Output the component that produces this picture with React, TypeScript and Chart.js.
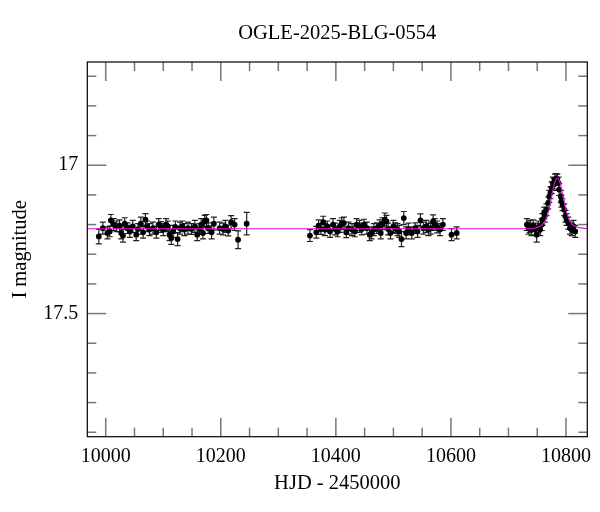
import { useEffect, useRef } from 'react';
import { Chart, registerables } from 'chart.js';

Chart.register(...registerables);

// season 1 (HJD - 2450000, I mag, error)
const s1Hjd = [
  9988, 9995, 10003, 10007, 10009, 10014, 10019, 10024, 10027, 10030,
  10033, 10038, 10042, 10047, 10053, 10056, 10061, 10065, 10069, 10072,
  10076, 10082, 10088, 10092, 10096, 10100, 10105, 10108, 10111, 10114,
  10117, 10121, 10125, 10129, 10133, 10137, 10143, 10149, 10155, 10159,
  10163, 10166, 10169, 10172, 10175, 10178, 10184, 10188, 10198, 10204,
  10208, 10213, 10218, 10224, 10230, 10245,
];
const s1Mag = [
  17.240, 17.212, 17.228, 17.223, 17.186, 17.200, 17.206, 17.204, 17.228, 17.237,
  17.197, 17.212, 17.223, 17.206, 17.234, 17.215, 17.197, 17.226, 17.183, 17.206,
  17.217, 17.212, 17.226, 17.200, 17.208, 17.217, 17.200, 17.206, 17.234, 17.245,
  17.223, 17.208, 17.249, 17.212, 17.206, 17.217, 17.212, 17.215, 17.206, 17.234,
  17.215, 17.200, 17.228, 17.189, 17.186, 17.212, 17.226, 17.197, 17.212, 17.215,
  17.206, 17.220, 17.192, 17.200, 17.251, 17.197,
];
const s1Err = [
  0.025, 0.02, 0.02, 0.018, 0.02, 0.02, 0.018, 0.02, 0.02, 0.022,
  0.02, 0.018, 0.02, 0.02, 0.02, 0.018, 0.022, 0.02, 0.02, 0.018,
  0.02, 0.02, 0.02, 0.02, 0.018, 0.02, 0.02, 0.018, 0.02, 0.022,
  0.02, 0.02, 0.022, 0.02, 0.018, 0.02, 0.02, 0.018, 0.02, 0.02,
  0.018, 0.02, 0.02, 0.02, 0.02, 0.018, 0.022, 0.022, 0.02, 0.02,
  0.02, 0.018, 0.022, 0.02, 0.03, 0.038,
];

// season 2
const s2Hjd = [
  10355, 10366, 10370, 10374, 10378, 10381, 10385, 10390, 10395, 10399,
  10403, 10407, 10410, 10414, 10418, 10422, 10428, 10433, 10436, 10441,
  10445, 10449, 10454, 10459, 10462, 10466, 10471, 10476, 10478, 10481,
  10485, 10488, 10491, 10495, 10500, 10503, 10507, 10510, 10514, 10518,
  10522, 10526, 10532, 10538, 10542, 10547, 10552, 10557, 10561, 10565,
  10569, 10572, 10576, 10581, 10586, 10601, 10610,
];
const s2Mag = [
  17.237, 17.226, 17.204, 17.215, 17.192, 17.217, 17.206, 17.223, 17.200, 17.215,
  17.223, 17.206, 17.197, 17.195, 17.226, 17.212, 17.217, 17.223, 17.200, 17.206,
  17.215, 17.200, 17.212, 17.234, 17.228, 17.217, 17.212, 17.204, 17.228, 17.197,
  17.183, 17.189, 17.215, 17.228, 17.206, 17.212, 17.217, 17.223, 17.249, 17.178,
  17.228, 17.215, 17.228, 17.212, 17.223, 17.186, 17.212, 17.206, 17.217, 17.212,
  17.189, 17.200, 17.208, 17.217, 17.200, 17.234, 17.228,
];
const s2Err = [
  0.02, 0.02, 0.02, 0.018, 0.02, 0.02, 0.018, 0.02, 0.02, 0.02,
  0.018, 0.02, 0.02, 0.02, 0.018, 0.02, 0.02, 0.018, 0.02, 0.02,
  0.02, 0.018, 0.02, 0.02, 0.02, 0.02, 0.018, 0.02, 0.02, 0.02,
  0.022, 0.02, 0.02, 0.02, 0.02, 0.018, 0.02, 0.02, 0.025, 0.022,
  0.02, 0.02, 0.02, 0.018, 0.02, 0.022, 0.02, 0.02, 0.02, 0.02,
  0.022, 0.02, 0.02, 0.02, 0.02, 0.02, 0.02,
];

// season 3 (event)
const s3Hjd = [
  10732, 10735, 10737, 10740, 10743, 10746, 10749, 10752, 10755, 10758,
  10759, 10762, 10763, 10766, 10769, 10771, 10773, 10775, 10777, 10779,
  10781, 10783, 10785, 10787, 10788, 10791, 10792, 10794, 10797, 10799,
  10801, 10804, 10807, 10810, 10813, 10816,
];
const s3Mag = [
  17.200, 17.212, 17.206, 17.217, 17.204, 17.215, 17.234, 17.208, 17.217, 17.200,
  17.183, 17.161, 17.172, 17.150, 17.127, 17.105, 17.093, 17.076, 17.060, 17.065,
  17.048, 17.046, 17.048, 17.060, 17.082, 17.105, 17.121, 17.133, 17.150, 17.172,
  17.183, 17.195, 17.212, 17.217, 17.206, 17.223,
];
const s3Err = [
  0.02, 0.02, 0.02, 0.02, 0.02, 0.02, 0.025, 0.02, 0.02, 0.02,
  0.02, 0.02, 0.02, 0.02, 0.02, 0.02, 0.02, 0.02, 0.02, 0.02,
  0.018, 0.018, 0.018, 0.02, 0.02, 0.02, 0.02, 0.02, 0.02, 0.02,
  0.02, 0.02, 0.02, 0.02, 0.02, 0.02,
];

// model light curve
const modelHjd = [
  9968, 10740, 10753, 10760, 10765, 10770, 10773, 10776, 10779, 10782,
  10785, 10788, 10791, 10794, 10797, 10800, 10805, 10810, 10817, 10830, 10837,
];
const modelMag = [
  17.214, 17.214, 17.207, 17.198, 17.182, 17.152, 17.125, 17.095, 17.068, 17.050,
  17.043, 17.050, 17.068, 17.095, 17.125, 17.152, 17.182, 17.198, 17.207, 17.212, 17.214,
];

const xTicks = [10000, 10050, 10100, 10150, 10200, 10250, 10300, 10350, 10400, 10450, 10500, 10550, 10600, 10650, 10700, 10750, 10800];
const xLabels = [10000, 10200, 10400, 10600, 10800];
const yTicks = [16.7, 16.8, 16.9, 17.0, 17.1, 17.2, 17.3, 17.4, 17.5, 17.6, 17.7, 17.8, 17.9];
const yLabels = [17.0, 17.5];

const FONT = "'Liberation Serif', 'Times New Roman', serif";

const toPoints = (xs: number[], ys: number[]) => xs.map((x, i) => ({ x, y: ys[i] }));

const errorBars = {
  id: 'errorBars',
  beforeDatasetsDraw(chart: any) {
    const { ctx, scales: { x, y } } = chart;
    ctx.save();
    ctx.strokeStyle = '#222';
    ctx.lineWidth = 1.2;
    chart.data.datasets.forEach((ds: any) => {
      if (!ds.errors) return;
      ds.data.forEach((p: any, i: number) => {
        const px = x.getPixelForValue(p.x);
        const top = y.getPixelForValue(p.y - ds.errors[i]);
        const bot = y.getPixelForValue(p.y + ds.errors[i]);
        ctx.beginPath();
        ctx.moveTo(px, top);
        ctx.lineTo(px, bot);
        ctx.moveTo(px - 3, top);
        ctx.lineTo(px + 3, top);
        ctx.moveTo(px - 3, bot);
        ctx.lineTo(px + 3, bot);
        ctx.stroke();
      });
    });
    ctx.restore();
  },
};

const frameTicks = {
  id: 'frameTicks',
  afterDraw(chart: any) {
    const { ctx, chartArea: a, scales: { x, y } } = chart;
    const line = (x0: number, y0: number, x1: number, y1: number) => {
      ctx.beginPath();
      ctx.moveTo(x0, y0);
      ctx.lineTo(x1, y1);
      ctx.stroke();
    };
    ctx.save();
    ctx.strokeStyle = '#777';
    ctx.lineWidth = 1.5;
    xTicks.forEach((v) => {
      const px = x.getPixelForValue(v);
      const len = xLabels.includes(v) ? 19 : 9;
      line(px, a.bottom, px, a.bottom - len);
      line(px, a.top, px, a.top + len);
    });
    yTicks.forEach((v) => {
      const py = y.getPixelForValue(v);
      const len = yLabels.includes(v) ? 19 : 9;
      line(a.left, py, a.left + len, py);
      line(a.right, py, a.right - len, py);
    });
    ctx.strokeStyle = '#000';
    ctx.lineWidth = 1.2;
    ctx.strokeRect(a.left, a.top, a.right - a.left, a.bottom - a.top);
    ctx.restore();
  },
};

export default function App() {
  const canvasRef = useRef<HTMLCanvasElement>(null);

  useEffect(() => {
    if (!canvasRef.current) return;
    const pointStyle = {
      type: 'scatter' as const,
      backgroundColor: '#000',
      borderColor: '#000',
      borderWidth: 0,
      pointRadius: 2.9,
      order: 1,
    };
    const chart = new Chart(canvasRef.current, {
      type: 'scatter',
      data: {
        datasets: [
          {
            type: 'line',
            data: toPoints(modelHjd, modelMag),
            borderColor: '#e010e0',
            borderWidth: 1.1,
            pointRadius: 0,
            cubicInterpolationMode: 'monotone',
            order: 0,
          },
          { ...pointStyle, data: toPoints(s1Hjd, s1Mag), errors: s1Err },
          { ...pointStyle, data: toPoints(s2Hjd, s2Mag), errors: s2Err },
          { ...pointStyle, data: toPoints(s3Hjd, s3Mag), errors: s3Err },
        ] as any,
      },
      options: {
        animation: false,
        responsive: true,
        maintainAspectRatio: false,
        layout: { padding: { left: 0, right: 12.7, top: 0, bottom: 0 } },
        plugins: {
          legend: { display: false },
          tooltip: { enabled: false },
          title: {
            display: true,
            fullSize: false,
            text: 'OGLE-2025-BLG-0554',
            color: '#000',
            font: { family: FONT, size: 20.5, weight: 'normal' },
            padding: { top: 21.7, bottom: 15.7 },
          },
        },
        scales: {
          x: {
            type: 'linear',
            min: 9968,
            max: 10837,
            grid: { display: false, drawTicks: false },
            border: { display: false },
            afterBuildTicks: (axis: any) => {
              axis.ticks = xLabels.map((v) => ({ value: v }));
            },
            afterFit: (scale: any) => {
              scale.height = 75.3;
            },
            ticks: {
              color: '#000',
              padding: 8,
              maxRotation: 0,
              font: { family: FONT, size: 20 },
              callback: (v: any) => String(v),
            },
            title: {
              display: true,
              text: 'HJD - 2450000',
              color: '#000',
              font: { family: FONT, size: 20.5 },
              padding: { top: 0, bottom: 15.7 },
            },
          },
          y: {
            type: 'linear',
            reverse: true,
            min: 16.652,
            max: 17.915,
            grid: { display: false, drawTicks: false },
            border: { display: false },
            afterBuildTicks: (axis: any) => {
              axis.ticks = yLabels.map((v) => ({ value: v }));
            },
            afterFit: (scale: any) => {
              scale.width = 87.3;
            },
            ticks: {
              color: '#000',
              padding: 9,
              font: { family: FONT, size: 20 },
              callback: (v: any) => String(v),
            },
            title: {
              display: true,
              text: 'I magnitude',
              color: '#000',
              font: { family: FONT, size: 20.5 },
              padding: { top: 8.7, bottom: 0 },
            },
          },
        },
      },
      plugins: [errorBars, frameTicks],
    });
    return () => chart.destroy();
  }, []);

  return (
    <div style={{ position: 'absolute', left: 0, top: 0, width: 600, height: 512, background: '#fff' }}>
      <canvas ref={canvasRef} />
    </div>
  );
}
